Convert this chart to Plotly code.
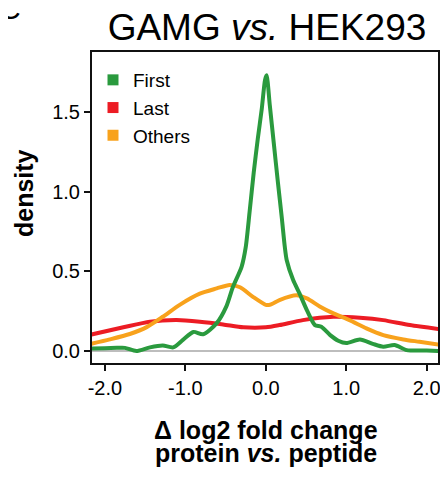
import plotly.graph_objects as go

# ---- data ----
first_x = [-2.2, -2.0, -1.85, -1.75, -1.61, -1.44, -1.28, -1.15, -1.03, -0.90, -0.78, -0.61, -0.49,
           -0.41, -0.30, -0.25, -0.20, -0.15, -0.10, -0.05, -0.01, 0.01, 0.05, 0.10, 0.15, 0.20,
           0.236, 0.26, 0.34, 0.42, 0.51, 0.61, 0.69, 0.80, 0.90, 1.0, 1.17, 1.33, 1.46, 1.60,
           1.75, 2.0, 2.2]
first_y = [0.015, 0.018, 0.02, 0.02, 0.0, 0.023, 0.035, 0.023, 0.07, 0.12, 0.105, 0.175, 0.28,
           0.40, 0.53, 0.65, 0.88, 1.12, 1.33, 1.52, 1.70, 1.73, 1.54, 1.30, 1.06, 0.83,
           0.654, 0.57, 0.445, 0.36, 0.257, 0.163, 0.152, 0.10, 0.065, 0.05, 0.072, 0.045, 0.027, 0.038,
           0.006, 0.003, 0.0]

last_x = [-2.2, -1.77, -1.44, -1.11, -0.82, -0.53, -0.28, 0.0, 0.17, 0.46, 0.84, 1.17, 1.46, 1.79, 2.2]
last_y = [0.10, 0.149, 0.184, 0.194, 0.184, 0.167, 0.149, 0.149, 0.163, 0.194, 0.215, 0.209, 0.194, 0.163, 0.135]

others_x = [-2.2, -1.94, -1.69, -1.48, -1.28, -1.07, -0.82, -0.61, -0.45, -0.32, -0.16, 0.0, 0.05,
            0.17, 0.38, 0.51, 0.67, 0.84, 1.04, 1.25, 1.46, 1.71, 1.91, 2.2]
others_y = [0.042, 0.073, 0.107, 0.15, 0.215, 0.29, 0.36, 0.393, 0.415, 0.40, 0.34, 0.29, 0.29,
            0.32, 0.35, 0.33, 0.28, 0.236, 0.194, 0.142, 0.10, 0.073, 0.058, 0.036]

series_names = ["First", "Last", "Others"]
series_colors = ["#2a9a3e", "#ec1c24", "#f8a21c"]

x_tickvals = [-2, -1, 0, 1, 2]
x_ticktext = ["-2.0", "-1.0", "0.0", "1.0", "2.0"]
y_tickvals = [0, 0.5, 1.0, 1.5]
y_ticktext = ["0.0", "0.5", "1.0", "1.5"]

FONT = "Liberation Sans, Arial, Helvetica, sans-serif"

# The page body has an 8px default margin, so the figure is drawn 8px smaller
# and all reference pixel positions are shifted by that offset.
OFF = 8
W, H = 448 - OFF, 484 - OFF
L, T = 92 - OFF, 52 - OFF
R = W - (438 - OFF)
B = H - (363 - OFF)
PW, PH = W - L - R, H - T - B


def px_x(px):
    return (px - OFF - L) / PW


def px_y(py):
    return (H - B - (py - OFF)) / PH


fig = go.Figure()
# draw order: Last, Others, First (green on top)
for idx in [1, 2, 0]:
    xs = [first_x, last_x, others_x][idx]
    ys = [first_y, last_y, others_y][idx]
    fig.add_trace(go.Scatter(x=xs, y=ys, mode="lines", name=series_names[idx], showlegend=False,
                             line=dict(color=series_colors[idx], width=4, shape="spline", smoothing=0.7)))
# legend entries as squares
for name, col in zip(series_names, series_colors):
    fig.add_trace(go.Scatter(x=[None], y=[None], mode="markers", name=name,
                             marker=dict(symbol="square", size=11, color=col)))

axis_common = dict(showline=True, mirror=True, linecolor="#111111", linewidth=2,
                   ticks="outside", ticklen=6, tickwidth=2, tickcolor="#111111",
                   showgrid=False,
                   tickfont=dict(family=FONT, size=20, color="black"))

fig.update_layout(
    width=W, height=H,
    margin=dict(l=L, r=R, t=T, b=B, autoexpand=False),
    paper_bgcolor="white", plot_bgcolor="white",
    font=dict(family=FONT, color="black"),
    title=dict(text="GAMG <i>vs.</i> HEK293", x=px_x(267), xref="paper", xanchor="center",
               yref="container", y=1 - (27 - OFF) / H, yanchor="middle",
               font=dict(family=FONT, size=37, color="black")),
    xaxis=dict(range=[-2.16, 2.14], tickvals=x_tickvals, ticktext=x_ticktext, zeroline=False,
               **axis_common),
    yaxis=dict(range=[-0.075, 1.876], tickvals=y_tickvals, ticktext=y_ticktext,
               zeroline=True, zerolinecolor="#bdbdbd", zerolinewidth=2,
               **axis_common),
    legend=dict(x=px_x(93), y=px_y(61), xanchor="left", yanchor="top", bgcolor="rgba(0,0,0,0)",
                font=dict(family=FONT, size=19, color="black"), itemwidth=30, tracegroupgap=0),
    annotations=[
        dict(text="<b>Δ log2 fold change</b>", xref="paper", yref="paper", x=px_x(266), y=px_y(430),
             xanchor="center", yanchor="middle", showarrow=False,
             font=dict(family=FONT, size=25, color="black")),
        dict(text="<b>protein <i>vs.</i> peptide</b>", xref="paper", yref="paper", x=px_x(266),
             y=px_y(453), xanchor="center", yanchor="middle", showarrow=False,
             font=dict(family=FONT, size=25, color="black")),
        dict(text="<b>density</b>", xref="paper", yref="paper", x=px_x(24), y=px_y(193),
             xanchor="center", yanchor="middle", textangle=-90, showarrow=False,
             font=dict(family=FONT, size=25, color="black")),
        dict(text="C", xref="paper", yref="paper", x=px_x(10), y=px_y(8),
             xanchor="center", yanchor="middle", showarrow=False,
             font=dict(family=FONT, size=30, color="black")),
    ],
)

fig.write_html("out.html")
